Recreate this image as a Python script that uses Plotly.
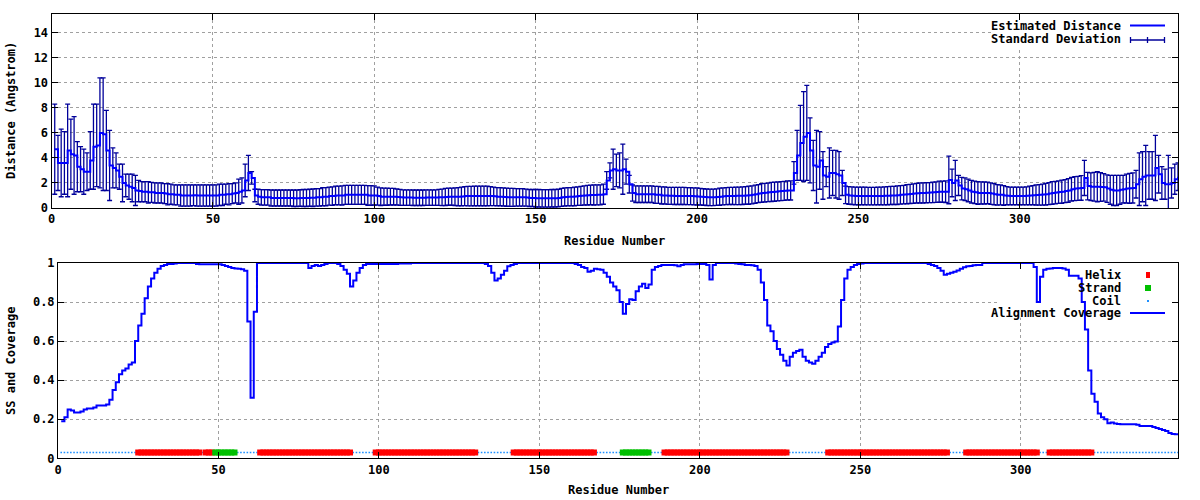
import plotly.graph_objects as go

# ---------------- data ----------------
distance = [
    4.7, 3.6, 3.6, 3.6, 4.6, 4.3, 4.2, 3.3, 3.1, 2.9,
    2.9, 3.8, 4.9, 5.0, 6.0, 5.9, 4.6, 3.4, 3.2, 3.0,
    2.5, 2.0, 1.8, 1.7, 1.6, 1.4, 1.35, 1.3, 1.3, 1.25,
    1.25, 1.2, 1.2, 1.2, 1.15, 1.1, 1.1, 1.05, 1.05, 1.0,
    1.0, 1.0, 1.0, 1.02, 1.0, 1.0, 1.0, 1.0, 1.0, 1.0,
    1.0, 1.05, 1.05, 1.1, 1.1, 1.15, 1.2, 1.3, 1.4, 2.2,
    2.8, 2.4, 1.0, 0.9, 0.85, 0.85, 0.85, 0.8, 0.8, 0.8,
    0.8, 0.8, 0.8, 0.8, 0.78, 0.78, 0.8, 0.8, 0.8, 0.82,
    0.82, 0.85, 0.85, 0.9, 0.9, 0.95, 0.95, 1.0, 1.0, 1.0,
    1.05, 1.05, 1.05, 1.05, 1.05, 1.05, 1.05, 1.0, 1.0, 1.0,
    0.95, 0.9, 0.9, 0.9, 0.9, 0.9, 0.88, 0.85, 0.83, 0.83,
    0.83, 0.82, 0.82, 0.82, 0.82, 0.83, 0.83, 0.83, 0.83, 0.85,
    0.85, 0.88, 0.9, 0.9, 0.9, 0.9, 0.92, 0.95, 0.95, 0.95,
    0.96, 0.96, 0.96, 0.96, 0.96, 0.95, 0.93, 0.9, 0.9, 0.88,
    0.86, 0.85, 0.85, 0.85, 0.85, 0.85, 0.83, 0.8, 0.8, 0.78,
    0.78, 0.77, 0.77, 0.77, 0.78, 0.78, 0.8, 0.85, 0.88, 0.9,
    0.9, 0.92, 0.95, 0.97, 1.0, 1.02, 1.04, 1.04, 1.05, 1.05,
    1.1, 2.2, 3.0, 3.1, 3.0, 3.0, 3.1, 2.9, 1.9, 1.2,
    1.1, 1.1, 1.1, 1.1, 1.1, 1.1, 1.05, 1.05, 1.0, 1.0,
    0.97, 0.97, 0.96, 0.96, 0.96, 0.96, 0.95, 0.95, 0.93, 0.92,
    0.9, 0.88, 0.86, 0.85, 0.85, 0.87, 0.9, 0.93, 0.95, 0.96,
    0.96, 0.97, 0.97, 0.98, 1.0, 1.02, 1.05, 1.1, 1.15, 1.2,
    1.22, 1.25, 1.28, 1.3, 1.33, 1.35, 1.37, 1.4, 1.4, 2.8,
    4.2, 5.2, 5.7, 6.0, 4.6, 3.4, 3.3, 3.8, 2.6, 2.5,
    2.8, 2.8, 2.7, 2.6, 2.0, 1.05, 1.0, 0.98, 0.96, 0.96,
    0.96, 0.96, 0.95, 0.95, 0.95, 0.96, 0.96, 0.97, 0.98, 1.0,
    1.0, 1.02, 1.05, 1.07, 1.1, 1.12, 1.15, 1.18, 1.2, 1.2,
    1.22, 1.23, 1.25, 1.27, 1.3, 1.3, 1.3, 2.24, 2.0, 2.2,
    1.8, 1.55, 1.5, 1.4, 1.3, 1.25, 1.2, 1.2, 1.2, 1.2,
    1.15, 1.1, 1.05, 1.05, 1.0, 0.98, 0.96, 0.96, 0.96, 0.96,
    0.96, 0.97, 1.0, 1.02, 1.04, 1.05, 1.07, 1.1, 1.15, 1.2,
    1.23, 1.27, 1.3, 1.35, 1.4, 1.5, 1.55, 1.57, 1.6, 2.4,
    1.75, 1.7, 1.7, 1.7, 1.68, 1.65, 1.55, 1.45, 1.4, 1.4,
    1.45, 1.5, 1.55, 1.57, 1.6, 1.9, 2.3, 2.5, 2.6, 2.6,
    2.6, 3.2, 2.7, 2.0, 1.9, 1.9, 2.0, 2.3, 2.5,
]

std_dev = [
    3.6, 2.2, 2.7, 2.5, 3.7, 2.8, 3.1, 2.0, 1.8, 1.8,
    1.5, 2.3, 3.4, 3.3, 4.4, 4.5, 3.2, 2.8, 1.6, 1.4,
    1.0, 1.5, 0.9, 1.0, 1.1, 1.2, 0.85, 0.8, 0.8, 0.85,
    0.8, 0.8, 0.8, 0.8, 0.8, 0.85, 0.8, 0.8, 0.8, 0.85,
    0.85, 0.85, 0.85, 0.83, 0.85, 0.85, 0.85, 0.85, 0.85, 0.85,
    0.85, 0.85, 0.85, 0.8, 0.85, 0.8, 0.8, 1.0, 1.0, 1.3,
    1.4, 0.5, 0.5, 0.6, 0.62, 0.62, 0.62, 0.64, 0.64, 0.64,
    0.64, 0.64, 0.64, 0.64, 0.66, 0.66, 0.66, 0.68, 0.68, 0.68,
    0.7, 0.7, 0.7, 0.72, 0.72, 0.72, 0.74, 0.74, 0.75, 0.76,
    0.76, 0.76, 0.76, 0.76, 0.76, 0.76, 0.76, 0.78, 0.78, 0.76,
    0.72, 0.7, 0.68, 0.68, 0.66, 0.66, 0.64, 0.64, 0.62, 0.62,
    0.62, 0.62, 0.62, 0.62, 0.62, 0.62, 0.62, 0.62, 0.62, 0.64,
    0.66, 0.68, 0.68, 0.68, 0.7, 0.72, 0.74, 0.76, 0.78, 0.78,
    0.78, 0.78, 0.78, 0.78, 0.78, 0.76, 0.74, 0.72, 0.72, 0.72,
    0.72, 0.72, 0.72, 0.7, 0.7, 0.7, 0.68, 0.68, 0.68, 0.7,
    0.7, 0.7, 0.7, 0.7, 0.7, 0.7, 0.7, 0.72, 0.72, 0.72,
    0.72, 0.74, 0.74, 0.76, 0.76, 0.78, 0.78, 0.8, 0.8, 0.8,
    0.8, 0.7, 0.6, 1.6, 1.3, 1.4, 2.0, 1.0, 0.7, 0.65,
    0.66, 0.66, 0.66, 0.66, 0.66, 0.66, 0.68, 0.68, 0.68, 0.68,
    0.68, 0.68, 0.68, 0.68, 0.68, 0.68, 0.68, 0.68, 0.68, 0.68,
    0.66, 0.66, 0.66, 0.66, 0.66, 0.66, 0.68, 0.68, 0.68, 0.68,
    0.68, 0.7, 0.7, 0.7, 0.7, 0.72, 0.72, 0.72, 0.72, 0.74,
    0.74, 0.74, 0.76, 0.76, 0.76, 0.76, 0.76, 0.76, 0.76, 0.9,
    2.0, 3.0, 3.6, 3.8, 2.6, 2.0, 2.9, 2.3, 1.9, 0.8,
    2.0, 1.8, 1.9, 1.9, 1.0, 0.7, 0.7, 0.7, 0.7, 0.7,
    0.7, 0.7, 0.7, 0.7, 0.7, 0.7, 0.7, 0.72, 0.72, 0.72,
    0.72, 0.74, 0.74, 0.74, 0.76, 0.76, 0.78, 0.78, 0.8, 0.8,
    0.8, 0.8, 0.82, 0.82, 0.84, 0.84, 0.86, 1.9, 1.1, 1.6,
    0.8, 0.9, 0.9, 0.9, 0.9, 0.9, 0.9, 0.88, 0.88, 0.86,
    0.86, 0.84, 0.82, 0.8, 0.78, 0.72, 0.7, 0.7, 0.7, 0.7,
    0.7, 0.72, 0.74, 0.76, 0.8, 0.82, 0.84, 0.86, 0.88, 0.9,
    0.9, 0.9, 0.92, 0.92, 0.94, 0.94, 0.96, 0.96, 0.98, 1.4,
    1.1, 1.1, 1.15, 1.2, 1.15, 1.1, 1.1, 1.15, 1.2, 1.2,
    1.15, 1.1, 1.15, 1.2, 1.2, 1.1, 2.1, 2.0, 2.4, 1.9,
    1.9, 2.6, 1.5, 1.3, 1.2, 2.3, 1.2, 1.2, 1.1,
]

coverage = [
    0.19, 0.21, 0.25, 0.245, 0.235, 0.235, 0.24, 0.25, 0.255, 0.255,
    0.26, 0.27, 0.27, 0.27, 0.275, 0.3, 0.35, 0.39, 0.43, 0.45,
    0.46, 0.48, 0.49, 0.6, 0.68, 0.74, 0.82, 0.88, 0.92, 0.95,
    0.97, 0.985, 0.99, 0.995, 0.995, 0.997, 1.0, 1.0, 1.0, 1.0,
    1.0, 1.0, 0.995, 0.993, 0.993, 0.993, 0.993, 0.993, 0.993, 0.993,
    0.99, 0.985, 0.98, 0.975, 0.972, 0.97, 0.968, 0.96, 0.7, 0.31,
    0.75, 1.0, 1.0, 1.0, 1.0, 1.0, 1.0, 1.0, 1.0, 1.0,
    1.0, 1.0, 1.0, 1.0, 1.0, 1.0, 1.0, 0.975, 0.985, 0.99,
    0.985, 0.99, 0.995, 1.0, 1.0, 1.0, 0.995, 0.985, 0.965, 0.945,
    0.88, 0.91, 0.95, 0.975, 0.99, 0.995, 0.995, 0.995, 0.995, 0.995,
    0.995, 0.995, 0.995, 0.995, 0.995, 0.997, 0.997, 0.997, 0.997, 1.0,
    1.0, 1.0, 1.0, 1.0, 1.0, 1.0, 1.0, 1.0, 1.0, 1.0,
    1.0, 1.0, 1.0, 1.0, 1.0, 1.0, 1.0, 1.0, 1.0, 1.0,
    1.0, 1.0, 0.995, 0.985, 0.95, 0.91, 0.92, 0.94, 0.96, 0.983,
    0.99, 0.995, 1.0, 1.0, 1.0, 1.0, 1.0, 1.0, 1.0, 1.0,
    1.0, 1.0, 1.0, 1.0, 1.0, 1.0, 1.0, 1.0, 1.0, 1.0,
    0.995, 0.99, 0.98, 0.975, 0.955, 0.96, 0.97, 0.968, 0.965, 0.95,
    0.93, 0.9, 0.88, 0.86, 0.8, 0.74, 0.79, 0.815, 0.81, 0.855,
    0.88, 0.894, 0.872, 0.89, 0.966, 0.98, 0.985, 0.99, 0.99, 0.99,
    0.99, 0.988, 0.983, 0.99, 0.993, 0.993, 0.993, 0.993, 0.995, 0.995,
    0.995, 0.99, 0.915, 0.99, 1.0, 1.0, 1.0, 1.0, 1.0, 1.0,
    0.997, 0.995, 0.993, 0.99, 0.99, 0.988, 0.985, 0.966, 0.9, 0.81,
    0.68, 0.65, 0.6, 0.56, 0.53, 0.5, 0.475, 0.52, 0.54, 0.55,
    0.556, 0.52, 0.5, 0.49, 0.484, 0.5, 0.52, 0.54, 0.57, 0.585,
    0.593, 0.598, 0.675, 0.81, 0.92, 0.966, 0.98, 0.99, 0.995, 0.997,
    1.0, 1.0, 1.0, 1.0, 1.0, 1.0, 1.0, 1.0, 1.0, 1.0,
    1.0, 1.0, 1.0, 1.0, 1.0, 1.0, 1.0, 1.0, 1.0, 1.0,
    0.995, 0.99, 0.985, 0.974, 0.96, 0.94, 0.945, 0.95, 0.955, 0.962,
    0.97, 0.978, 0.983, 0.985, 0.988, 0.99, 0.99, 1.0, 1.0, 1.0,
    1.0, 1.0, 1.0, 1.0, 1.0, 1.0, 1.0, 1.0, 1.0, 1.0,
    1.0, 1.0, 1.0, 0.98, 0.8, 0.93, 0.966, 0.97, 0.972, 0.974,
    0.974, 0.974, 0.972, 0.965, 0.935, 0.935, 0.935, 0.92, 0.8, 0.66,
    0.45, 0.33, 0.29, 0.23, 0.21, 0.2, 0.18, 0.183, 0.178, 0.175,
    0.174, 0.174, 0.174, 0.174, 0.174, 0.172, 0.166, 0.166, 0.166, 0.166,
    0.16, 0.155, 0.15, 0.145, 0.14, 0.13, 0.125, 0.123, 0.12,
]

# secondary structure segments: (first residue, last residue, state)
ss_segments = [
    (1, 24, "C"), (25, 44, "H"), (45, 45, "C"), (46, 48, "H"), (49, 55, "E"),
    (56, 62, "C"), (63, 91, "H"), (92, 98, "C"), (99, 130, "H"), (131, 141, "C"),
    (142, 167, "H"), (168, 175, "C"), (176, 184, "E"), (185, 188, "C"),
    (189, 227, "H"), (228, 239, "C"), (240, 277, "H"), (278, 282, "C"),
    (283, 305, "H"), (306, 308, "C"), (309, 322, "H"), (323, 349, "C"),
]
ss_level = 0.03

x_ticks = [0, 50, 100, 150, 200, 250, 300]
top_y_ticks = [0, 2, 4, 6, 8, 10, 12, 14]
bot_y_ticks = [0, 0.2, 0.4, 0.6, 0.8, 1]
bot_y_labels = ["0", "0.2", "0.4", "0.6", "0.8", "1"]

# ---------------- figure ----------------
W, H = 1200, 500
FONT = "DejaVu Sans Mono"


def fx(px):
    return px / W


def fy(py):
    return 1 - py / H


res_d = list(range(1, len(distance) + 1))
res_s = list(range(1, len(std_dev) + 1))
res_c = list(range(1, len(coverage) + 1))

ss_x = {"H": [], "E": [], "C": []}
for a, b, s in ss_segments:
    for r in range(a, b + 1):
        ss_x[s].append(r)

fig = go.Figure()

# top panel: error bars then estimated distance line
fig.add_trace(go.Scatter(
    x=res_s, y=distance[:len(std_dev)], mode="markers",
    marker=dict(size=1, color="rgba(0,0,0,0)"),
    error_y=dict(type="data", array=std_dev, visible=True,
                 color="#00009a", thickness=1.3, width=2.5),
    xaxis="x", yaxis="y", showlegend=False, hoverinfo="skip"))
fig.add_trace(go.Scatter(
    x=res_d, y=distance, mode="lines", line=dict(color="#0000ff", width=2, shape="hv"),
    xaxis="x", yaxis="y", showlegend=False))

# bottom panel
fig.add_trace(go.Scatter(
    x=ss_x["C"], y=[ss_level] * len(ss_x["C"]), mode="markers",
    marker=dict(symbol="square", size=1.6, color="#1e90ff", line=dict(width=0)),
    xaxis="x2", yaxis="y2", showlegend=False))
fig.add_trace(go.Scatter(
    x=ss_x["H"], y=[ss_level] * len(ss_x["H"]), mode="markers",
    marker=dict(symbol="square", size=6, color="#ff0000", line=dict(width=0)),
    xaxis="x2", yaxis="y2", showlegend=False))
fig.add_trace(go.Scatter(
    x=ss_x["E"], y=[ss_level] * len(ss_x["E"]), mode="markers",
    marker=dict(symbol="square", size=6, color="#00c000", line=dict(width=0)),
    xaxis="x2", yaxis="y2", showlegend=False))
fig.add_trace(go.Scatter(
    x=res_c, y=coverage, mode="lines", line=dict(color="#0000ff", width=2, shape="hv"),
    xaxis="x2", yaxis="y2", showlegend=False))

tickfont = dict(family=FONT, size=12, color="black", weight="bold")
axis_common = dict(
    showline=True, linecolor="black", linewidth=1, mirror="allticks",
    ticks="inside", ticklen=6, tickcolor="black", tickwidth=1,
    showgrid=True, gridcolor="#a0a0a0", gridwidth=1, griddash="3px,3px",
    zeroline=False, tickfont=tickfont, automargin=False, fixedrange=True,
)

fig.update_layout(
    width=W, height=H,
    margin=dict(l=0, r=0, t=0, b=0),
    paper_bgcolor="white", plot_bgcolor="white",
    showlegend=False,
    xaxis=dict(domain=[fx(51.5), fx(1178)], range=[0, 349], tickvals=x_ticks,
               anchor="y", **axis_common),
    yaxis=dict(domain=[fy(208), fy(14)], range=[0, 15.5], tickvals=top_y_ticks,
               anchor="x", **axis_common),
    xaxis2=dict(domain=[fx(58), fx(1178)], range=[0, 349], tickvals=x_ticks,
                anchor="y2", **axis_common),
    yaxis2=dict(domain=[fy(458.3), fy(263)], range=[0, 1], tickvals=bot_y_ticks,
                ticktext=bot_y_labels, anchor="x2", **axis_common),
)

# opaque key boxes (hide grid, drawn under the data)
fig.add_shape(type="rect", xref="x", yref="y", x0=291.5, x1=349, y0=12.85, y1=15.5,
              fillcolor="white", line=dict(width=0), layer="between")
fig.add_shape(type="rect", xref="x2", yref="y2", x0=293, x1=349, y0=0.72, y1=1.0,
              fillcolor="white", line=dict(width=0), layer="between")

txt = dict(family=FONT, size=12, color="black", weight="bold")


def label(text, px, py, xanchor="center", angle=0):
    fig.add_annotation(text=text, x=fx(px), y=fy(py), xref="paper", yref="paper",
                       xanchor=xanchor, yanchor="middle", showarrow=False,
                       font=txt, textangle=angle)


# axis titles
label("Distance (Angstrom)", 11, 111, angle=-90)
label("Residue Number", 614, 241)
label("SS and Coverage", 11, 361, angle=-90)
label("Residue Number", 618, 490)

# key: top panel
label("Estimated Distance", 1123, 26, xanchor="right")
label("Standard Deviation", 1123, 39.5, xanchor="right")
fig.add_shape(type="line", xref="paper", yref="paper", x0=fx(1130), x1=fx(1165),
              y0=fy(25.5), y1=fy(25.5), line=dict(color="#0000ff", width=2))
fig.add_shape(type="line", xref="paper", yref="paper", x0=fx(1130), x1=fx(1165),
              y0=fy(40), y1=fy(40), line=dict(color="#00009a", width=1.3))
for tx in (1130.5, 1147.5, 1164.5):
    fig.add_shape(type="line", xref="paper", yref="paper", x0=fx(tx), x1=fx(tx),
                  y0=fy(37), y1=fy(43), line=dict(color="#00009a", width=1.3))

# key: bottom panel
label("Helix", 1123, 275, xanchor="right")
label("Strand", 1123, 287.5, xanchor="right")
label("Coil", 1123, 300.5, xanchor="right")
label("Alignment Coverage", 1123, 313, xanchor="right")
fig.add_shape(type="rect", xref="paper", yref="paper", x0=fx(1146), x1=fx(1150),
              y0=fy(278), y1=fy(272), fillcolor="#ff0000", line=dict(width=0))
fig.add_shape(type="rect", xref="paper", yref="paper", x0=fx(1145), x1=fx(1151),
              y0=fy(291), y1=fy(285), fillcolor="#00c000", line=dict(width=0))
fig.add_shape(type="rect", xref="paper", yref="paper", x0=fx(1147), x1=fx(1149),
              y0=fy(302), y1=fy(300), fillcolor="#1e90ff", line=dict(width=0))
fig.add_shape(type="line", xref="paper", yref="paper", x0=fx(1130), x1=fx(1165),
              y0=fy(313), y1=fy(313), line=dict(color="#0000ff", width=2))

fig.write_html(
    "out.html",
    config={"displayModeBar": False, "staticPlot": True},
    post_script="document.body.style.margin='0';document.body.style.padding='0';"
                "document.body.style.overflow='hidden';",
)
